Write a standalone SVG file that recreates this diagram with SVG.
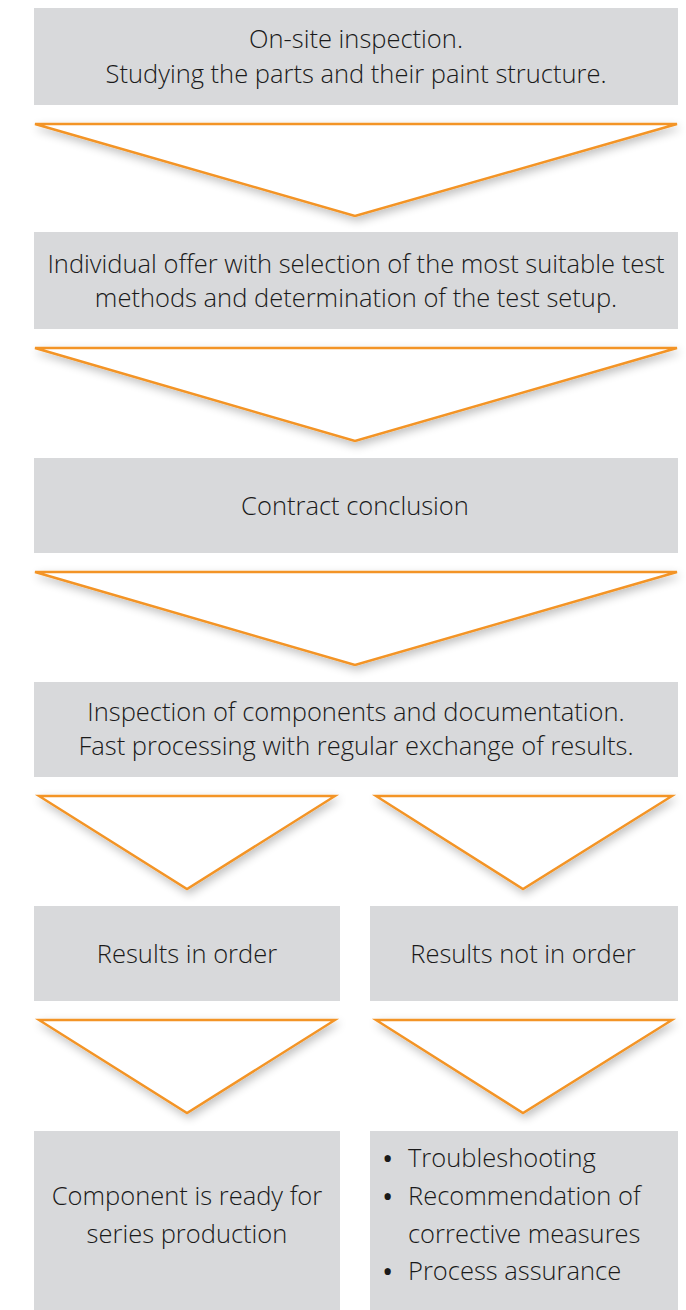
<svg xmlns="http://www.w3.org/2000/svg" width="686" height="1310" viewBox="0 0 686 1310">
<defs>
<style>
.box{fill:#d8d9db}
.tri{fill:#ffffff;stroke:#f39425;stroke-width:2.4;stroke-linejoin:miter;filter:url(#sh)}
text{font-family:"Open Sans","Liberation Sans",sans-serif;font-size:25.5px;font-weight:300;fill:#1a1a1a;text-anchor:middle}
.l{text-anchor:start}
.b{font-size:30px;font-weight:400}
</style>
<filter id="sh" x="-10%" y="-20%" width="120%" height="150%">
<feGaussianBlur in="SourceAlpha" stdDeviation="5"/>
<feOffset dx="2" dy="4"/>
<feComponentTransfer><feFuncA type="linear" slope="0.25"/></feComponentTransfer>
<feMerge><feMergeNode/><feMergeNode in="SourceGraphic"/></feMerge>
</filter>
</defs>
<rect width="686" height="1310" fill="#ffffff"/>
<g id="connectors">
<polygon class="tri" points="35,124 677,124 355,216"/>
<polygon class="tri" points="35,348 677,348 355,441"/>
<polygon class="tri" points="35,572 677,572 355,665"/>
<polygon class="tri" points="39,796 335,796 187,889"/>
<polygon class="tri" points="376,796 672,796 523,889"/>
<polygon class="tri" points="39,1020 335,1020 187,1113"/>
<polygon class="tri" points="376,1020 672,1020 523,1113"/>
</g>
<g id="n1"><rect class="box" x="34" y="8" width="644" height="97"/>
<text x="356" y="48">On-site inspection.</text>
<text x="356" y="83">Studying the parts and their paint structure.</text></g>
<g id="n2"><rect class="box" x="34" y="232" width="644" height="97"/>
<text x="356" y="273">Individual offer with selection of the most suitable test</text>
<text x="356" y="307">methods and determination of the test setup.</text></g>
<g id="n3"><rect class="box" x="34" y="458" width="644" height="95"/>
<text x="355" y="515">Contract conclusion</text></g>
<g id="n4"><rect class="box" x="34" y="682" width="644" height="95"/>
<text x="356" y="721">Inspection of components and documentation.</text>
<text x="356" y="755">Fast processing with regular exchange of results.</text></g>
<g id="n5"><rect class="box" x="34" y="906" width="306" height="95"/>
<text x="187" y="963">Results in order</text></g>
<g id="n6"><rect class="box" x="370" y="906" width="308" height="95"/>
<text x="523" y="963">Results not in order</text></g>
<g id="n7"><rect class="box" x="34" y="1131" width="306" height="179"/>
<text x="187" y="1205">Component is ready for</text>
<text x="187" y="1243">series production</text></g>
<g id="n8"><rect class="box" x="370" y="1131" width="308" height="179"/>
<text class="l b" x="382" y="1169">•</text><text class="l" x="408" y="1167">Troubleshooting</text>
<text class="l b" x="382" y="1207">•</text><text class="l" x="408" y="1205">Recommendation of</text>
<text class="l" x="408" y="1243">corrective measures</text>
<text class="l b" x="382" y="1282">•</text><text class="l" x="408" y="1280">Process assurance</text></g>
</svg>
